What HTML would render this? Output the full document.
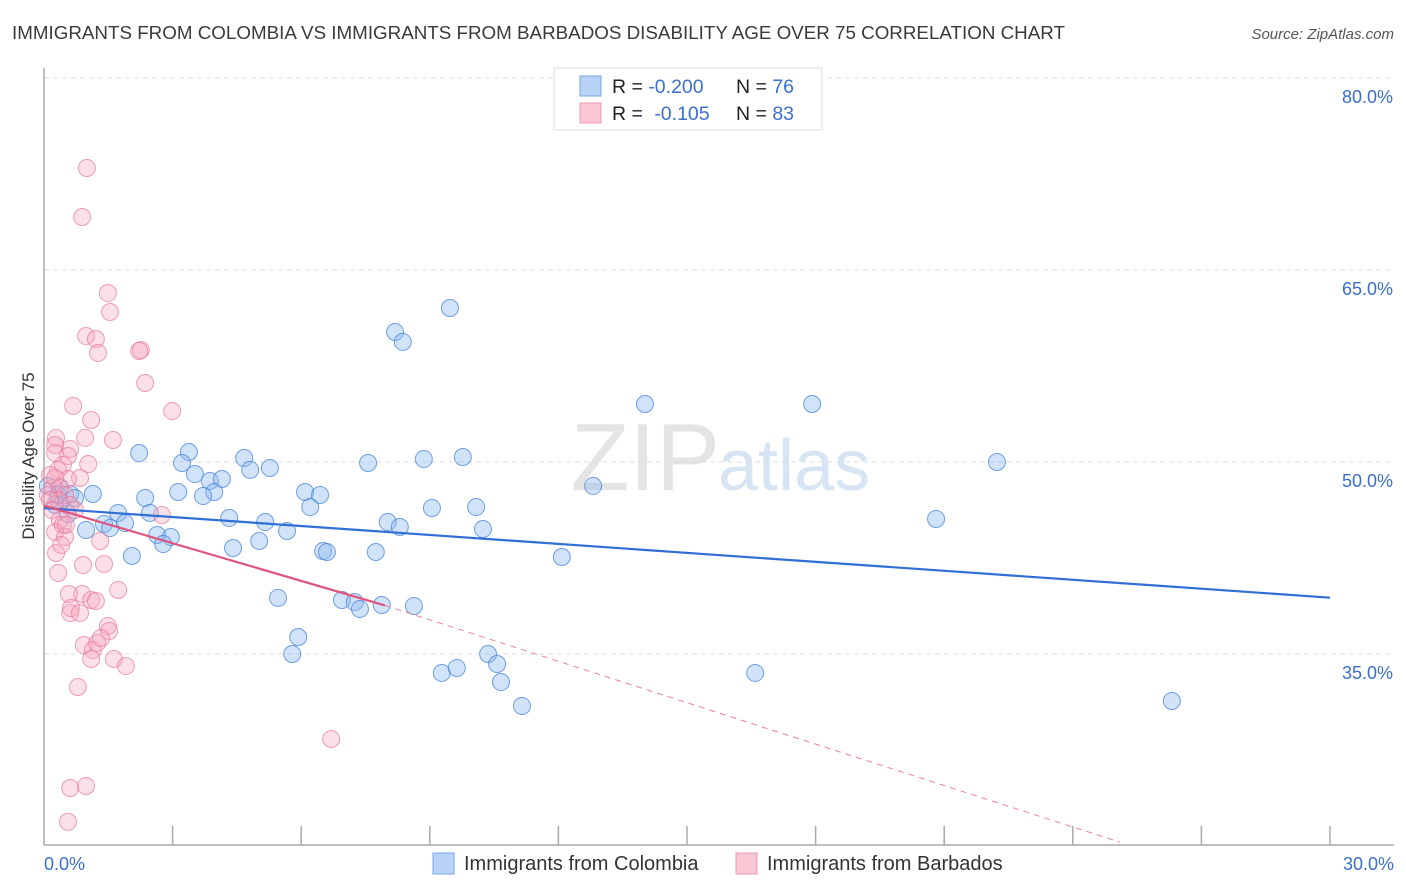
<!DOCTYPE html>
<html><head><meta charset="utf-8"><style>
body{margin:0;background:#fff;font-family:"Liberation Sans",sans-serif;overflow:hidden;}
svg text{font-family:"Liberation Sans",sans-serif;}
</style></head><body>
<svg id="chart" width="1406" height="892" style="display:block;overflow:hidden">
<text x="12" y="39" font-size="18.8" fill="#3a3a3a">IMMIGRANTS FROM COLOMBIA VS IMMIGRANTS FROM BARBADOS DISABILITY AGE OVER 75 CORRELATION CHART</text>
<text x="1394" y="39" font-size="15" fill="#555" text-anchor="end" font-style="italic">Source: ZipAtlas.com</text>
<text x="720" y="490" font-size="96" fill="#e4e4e4" text-anchor="end" font-family="Liberation Serif">ZIP</text>
<text x="718" y="490" font-size="72" fill="#d6e4f4">atlas</text>
<g id="grid"></g>
<g id="axes"></g>
<g id="pts"></g>
<g id="lines"></g>
<text transform="translate(34,456) rotate(-90)" font-size="17" fill="#333" text-anchor="middle">Disability Age Over 75</text>
<text x="44" y="870" font-size="18" fill="#3a6fd0">0.0%</text>
<text x="1394" y="870" font-size="18" fill="#3a6fd0" text-anchor="end">30.0%</text>
<g>
<rect x="554" y="68" width="268" height="62" fill="#fff" stroke="#ddd"/>
<rect x="580" y="76" width="21" height="20" fill="#b8d3f5" stroke="#7aa6e6"/>
<rect x="580" y="103" width="21" height="20" fill="#f9c6d4" stroke="#ec9ab2"/>
<text x="612" y="93" font-size="19.5" fill="#222">R = <tspan fill="#3a6fd0">-0.200</tspan><tspan x="736">N = </tspan><tspan fill="#3a6fd0">76</tspan></text>
<text x="612" y="120" font-size="19.5" fill="#222">R = <tspan fill="#3a6fd0" dx="6">-0.105</tspan><tspan x="736">N = </tspan><tspan fill="#3a6fd0">83</tspan></text>
</g>
<g>
<rect x="433" y="853" width="21" height="21" fill="#b8d3f5" stroke="#7aa6e6"/>
<text x="464" y="870" font-size="20" fill="#333">Immigrants from Colombia</text>
<rect x="736" y="853" width="21" height="21" fill="#f9c6d4" stroke="#ec9ab2"/>
<text x="767" y="870" font-size="20" fill="#333">Immigrants from Barbados</text>
</g>
</svg>
<script>
const NS="http://www.w3.org/2000/svg";
const yTicks=[80,65,50,35];
const yTickLabels=["80.0%","65.0%","50.0%","35.0%"];
const xTicks=[0,3,6,9,12,15,18,21,24,27,30];
const bluePx=[[450,308],[395,332],[403,342],[645,404],[812,404],[997,462],[936,519],[1172,701],[755,673],[139,453],[189,452],[182,463],[244,458],[250,470],[270,468],[195,474],[210,481],[222,479],[214,492],[203,496],[178,492],[145,498],[93,494],[118,513],[150,513],[229,518],[265,522],[259,541],[287,531],[233,548],[157,535],[171,537],[163,544],[132,556],[104,524],[110,528],[125,523],[86,530],[68,514],[60,502],[58,495],[48,486],[55,505],[305,492],[320,495],[310,507],[368,463],[424,459],[463,457],[593,486],[432,508],[476,507],[388,522],[400,527],[483,529],[376,552],[323,551],[327,552],[562,557],[278,598],[342,600],[355,602],[360,609],[382,605],[414,606],[298,637],[292,654],[442,673],[457,668],[488,654],[497,664],[501,682],[522,706],[60,488],[70,494],[75,498]];
const pinkPx=[[87,168],[82,217],[108,293],[110,312],[86,336],[96,339],[98,353],[141,350],[139,351],[145,383],[172,411],[73,406],[91,420],[85,438],[113,440],[56,438],[55,445],[55,453],[70,449],[68,456],[88,464],[63,465],[58,470],[80,478],[68,479],[53,488],[60,487],[50,475],[65,495],[58,500],[70,505],[75,510],[162,515],[60,520],[63,525],[55,532],[65,537],[100,541],[56,553],[58,573],[83,565],[104,564],[82,594],[118,590],[69,594],[70,613],[91,600],[96,601],[71,608],[80,613],[84,645],[93,650],[97,643],[108,626],[109,631],[101,638],[91,659],[114,659],[126,666],[78,687],[331,739],[70,788],[86,786],[68,822],[48,495],[50,500],[55,478],[66,525],[61,545],[52,510]];
const blueX=bluePx.map(p=>+((p[0]-44)/42.867).toFixed(2));
const blueY=bluePx.map(p=>+(50-(p[1]-462)/12.8).toFixed(2));
const pinkX=pinkPx.map(p=>+((p[0]-44)/42.867).toFixed(2));
const pinkY=pinkPx.map(p=>+(50-(p[1]-462)/12.8).toFixed(2));
const blueTrend=[46.4,39.4];
const pinkTrend=[46.6,38.8,20.3];
const pinkTrendX=[0,7.95,25.1];
function sx(v){return 44+v/30*1286;}
function sy(v){return 462-(v-50)*12.8;}
const grid=document.getElementById('grid'),axes=document.getElementById('axes'),pts=document.getElementById('pts'),lines=document.getElementById('lines');
function mk(tag,attrs,parent){const e=document.createElementNS(NS,tag);for(const k in attrs)e.setAttribute(k,attrs[k]);parent.appendChild(e);return e;}
yTicks.forEach((t,i)=>{
 const g=mk('line',{x1:44,x2:1394,y1:sy(t),y2:sy(t),stroke:'#ddd','stroke-dasharray':'5,4'},grid);
 
 
 const l=mk('text',{x:1393,y:sy(t)+25,'font-size':18,fill:'#3a6fd0','text-anchor':'end'},grid);
 l.textContent=yTickLabels[i];
 
 
});
const ya=mk('line',{x1:44,x2:44,y1:68,y2:845,stroke:'#aaa','stroke-width':1.5},axes);


const xa=mk('line',{x1:44,x2:1394,y1:845,y2:845,stroke:'#aaa','stroke-width':1.5},axes);


xTicks.forEach(t=>{
 if(t===0)return;
 const k=mk('line',{x1:sx(t),x2:sx(t),y1:826,y2:845,stroke:'#aaa','stroke-width':1.5},axes);
 
 
});
blueX.forEach((x,i)=>{
 const c=mk('circle',{cx:sx(x),cy:sy(blueY[i]),r:8.5,fill:'rgba(140,185,238,0.4)',stroke:'rgba(70,130,215,0.75)','stroke-width':1},pts);
 
 
});
pinkX.forEach((x,i)=>{
 const c=mk('circle',{cx:sx(x),cy:sy(pinkY[i]),r:8.5,fill:'rgba(245,165,190,0.35)',stroke:'rgba(230,120,155,0.7)','stroke-width':1},pts);
 
 
});
const bl=mk('line',{x1:sx(0),y1:sy(blueTrend[0]),x2:sx(30),y2:sy(blueTrend[1]),stroke:'#2f6fd6','stroke-width':2.2},lines);


const pl=mk('line',{x1:sx(pinkTrendX[0]),y1:sy(pinkTrend[0]),x2:sx(pinkTrendX[1]),y2:sy(pinkTrend[1]),stroke:'#e0557f','stroke-width':2.2},lines);


const pd=mk('line',{x1:sx(pinkTrendX[1]),y1:sy(pinkTrend[1]),x2:sx(pinkTrendX[2]),y2:sy(pinkTrend[2]),stroke:'#e8829f','stroke-width':1,'stroke-dasharray':'6,5'},lines);


</script>
</body></html>
